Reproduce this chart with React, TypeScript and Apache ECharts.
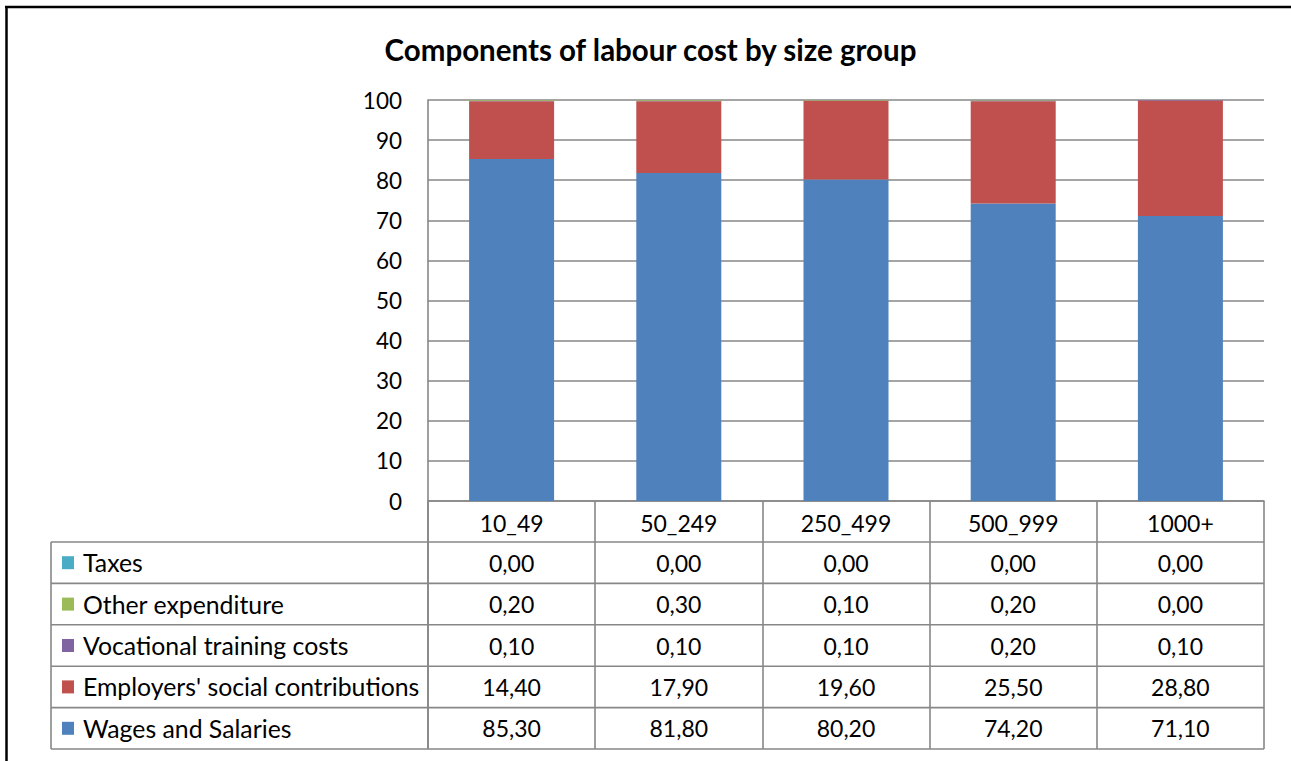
import React, { useEffect, useRef } from "react";
import * as echarts from "echarts";

const chartTitle = "Components of labour cost by size group";
const categories = ["10_49", "50_249", "250_499", "500_999", "1000+"];
const wagesAndSalaries = [85.3, 81.8, 80.2, 74.2, 71.1];
const employersContributions = [14.4, 17.9, 19.6, 25.5, 28.8];
const vocationalTraining = [0.1, 0.1, 0.1, 0.2, 0.1];
const otherExpenditure = [0.2, 0.3, 0.1, 0.2, 0.0];
const taxes = [0.0, 0.0, 0.0, 0.0, 0.0];

// stacking order: bottom to top
const seriesDefs = [
  { name: "Wages and Salaries", data: wagesAndSalaries, color: "#4F81BD" },
  { name: "Employers' social contributions", data: employersContributions, color: "#C0504D" },
  { name: "Vocational training costs", data: vocationalTraining, color: "#8064A2" },
  { name: "Other expenditure", data: otherExpenditure, color: "#9BBB59" },
  { name: "Taxes", data: taxes, color: "#4BACC6" },
];

const FONT = "Lato, 'Liberation Sans', sans-serif";
const GRID_COLOR = "#878787";
const W = 1291;
const H = 761;

const fmt = (v: number) => v.toFixed(2).replace(".", ",");

export default function App() {
  const ref = useRef<HTMLDivElement>(null);

  useEffect(() => {
    if (!ref.current) return;
    const chart = echarts.init(ref.current, undefined, { renderer: "svg" });

    const gridLeft = 428;
    const gridRight = 27;
    const gridTop = 100;
    const gridBottom = 260;

    chart.setOption({
      animation: false,
      backgroundColor: "#ffffff",
      grid: { left: gridLeft, right: gridRight, top: gridTop, bottom: gridBottom, containLabel: false },
      xAxis: {
        type: "category",
        data: categories,
        boundaryGap: true,
        axisLine: { show: true, lineStyle: { color: GRID_COLOR, width: 1.6 } },
        axisTick: { show: true, length: 248, lineStyle: { color: GRID_COLOR, width: 1.6 } },
        axisLabel: { color: "#000", fontSize: 23, fontFamily: FONT, margin: 10 },
        splitLine: { show: false },
      },
      yAxis: {
        type: "value",
        min: 0,
        max: 100,
        interval: 10,
        axisLine: { show: true, lineStyle: { color: GRID_COLOR, width: 1.6 } },
        axisTick: { show: false },
        axisLabel: { color: "#000", fontSize: 22.5, fontFamily: FONT, margin: 26 },
        splitLine: { show: true, lineStyle: { color: GRID_COLOR, width: 1.6 } },
      },
      series: seriesDefs.map((s) => ({
        name: s.name,
        type: "bar",
        stack: "total",
        data: s.data,
        barWidth: 85,
        itemStyle: { color: s.color },
      })),
    });

    // Build data table + title + frame using the axis scale positions
    const centers = categories.map((c) => chart.convertToPixel({ xAxisIndex: 0 }, c) as number);
    const catW = centers.length > 1 ? centers[1] - centers[0] : 160;
    const tableRight = centers[centers.length - 1] + catW / 2;
    const tableLeft = 51;
    const axisY = chart.convertToPixel({ yAxisIndex: 0 }, 0) as number;
    const headerBottom = 542;
    const rowH = (749 - headerBottom) / 5;

    const rows = [...seriesDefs].reverse();
    const lineStyle = { stroke: GRID_COLOR, lineWidth: 1.6 };
    const elements: any[] = [];

    // outer frame (top and left)
    elements.push({ type: "line", shape: { x1: 5, y1: 7, x2: W, y2: 7 }, style: { stroke: "#000", lineWidth: 2.5 } });
    elements.push({ type: "line", shape: { x1: 6.5, y1: 6, x2: 6.5, y2: H }, style: { stroke: "#000", lineWidth: 2.5 } });

    // title
    elements.push({
      type: "text",
      x: 650.5,
      y: 49,
      style: {
        text: chartTitle,
        fill: "#000",
        fontSize: 29.5,
        fontWeight: "bold",
        fontFamily: FONT,
        align: "center",
        verticalAlign: "middle",
        textAlign: "center",
        textVerticalAlign: "middle",
      },
    });

    // table vertical lines: left edge and y-axis extension
    elements.push({ type: "line", shape: { x1: tableLeft, y1: headerBottom, x2: tableLeft, y2: headerBottom + rowH * 5 }, style: lineStyle });
    elements.push({ type: "line", shape: { x1: gridLeft, y1: axisY, x2: gridLeft, y2: headerBottom + rowH * 5 }, style: lineStyle });

    // horizontal lines
    for (let r = 0; r <= rows.length; r++) {
      const y = headerBottom + rowH * r;
      elements.push({ type: "line", shape: { x1: tableLeft, y1: y, x2: tableRight, y2: y }, style: lineStyle });
    }

    rows.forEach((s, r) => {
      const cy = headerBottom + rowH * (r + 0.5);
      elements.push({
        type: "rect",
        shape: { x: 62, y: cy - 6.5, width: 12, height: 13 },
        style: { fill: s.color },
      });
      elements.push({
        type: "text",
        x: 83,
        y: cy,
        style: {
          text: s.name,
          fill: "#000",
          fontSize: 24.8,
          fontFamily: FONT,
          align: "left",
          verticalAlign: "middle",
          textAlign: "left",
          textVerticalAlign: "middle",
        },
      });
      s.data.forEach((v, i) => {
        elements.push({
          type: "text",
          x: centers[i],
          y: cy,
          style: {
            text: fmt(v),
            fill: "#000",
            fontSize: 23,
            fontFamily: FONT,
            align: "center",
            verticalAlign: "middle",
            textAlign: "center",
            textVerticalAlign: "middle",
          },
        });
      });
    });

    chart.setOption({ graphic: { elements } });

    return () => chart.dispose();
  }, []);

  return (
    <div
      ref={ref}
      style={{ position: "absolute", left: 0, top: 0, width: W, height: H, background: "#fff" }}
    />
  );
}
